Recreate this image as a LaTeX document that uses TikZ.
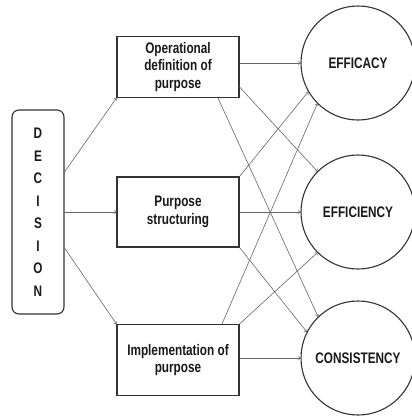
\documentclass[tikz,border=0pt]{standalone}
\usepackage{fontspec}
\setmainfont{Liberation Sans}[FakeStretch=0.77]
\tikzset{
  box/.style={draw=black!80, line width=1.1pt, minimum width=122pt, text width=112pt,
    align=center, text=black!90, font=\bfseries\fontsize{15.3}{17.5}\selectfont,
    execute at begin node={\spaceskip 3.3pt\relax}},
  goal/.style={circle, draw=black!80, line width=1.1pt, minimum size=114pt,
    text=black!90, font=\bfseries\fontsize{15.3}{17.5}\selectfont},
  link/.style={->, draw=black!60, line width=0.6pt}
}
\begin{document}
\begin{tikzpicture}[x=1pt,y=-1pt]
  \useasboundingbox (0,0) rectangle (412,416);

  \node[box, rounded corners=7pt, minimum width=52pt, text width=30pt,
    minimum height=204pt, font=\bfseries\fontsize{15.3}{22.5}\selectfont]
    (decision) at (38,212) {D\\E\\C\\I\\S\\I\\O\\N};

  \node[box, minimum height=61pt] (opdef) at (178,67) {Operational\\definition of\\purpose};
  \node[box, minimum height=70pt] (struct) at (178,212) {Purpose\\structuring};
  \node[box, minimum height=71pt] (impl) at (178,360) {Implementation of\\purpose};

  \node[goal] (efficacy) at (358,63) {EFFICACY};
  \node[goal] (efficiency) at (358,212) {EFFICIENCY};
  \node[goal] (consistency) at (358,358) {CONSISTENCY};

  \draw[link] ([yshift=40pt]decision.east) -- (opdef.south west);
  \draw[link] (decision.east) -- (struct.west);
  \draw[link] ([yshift=-36pt]decision.east) -- (impl.north west);

  \draw[link] (opdef.east |- efficacy) -- (efficacy);
  \draw[link] ([yshift=-20pt]opdef.east) -- (efficiency.135);
  \draw[link] ([xshift=40pt]opdef.south) -- (consistency.134);

  \draw[link] (struct.north east) -- (efficacy.210);
  \draw[link] (struct.east) -- (efficiency);
  \draw[link] (struct.south east) -- (consistency.153);

  \draw[link] ([xshift=44pt]impl.north) -- (efficacy.225);
  \draw[link] (impl.north east) -- (efficiency.225);
  \draw[link] (impl.east |- consistency) -- (consistency);
\end{tikzpicture}
\end{document}
